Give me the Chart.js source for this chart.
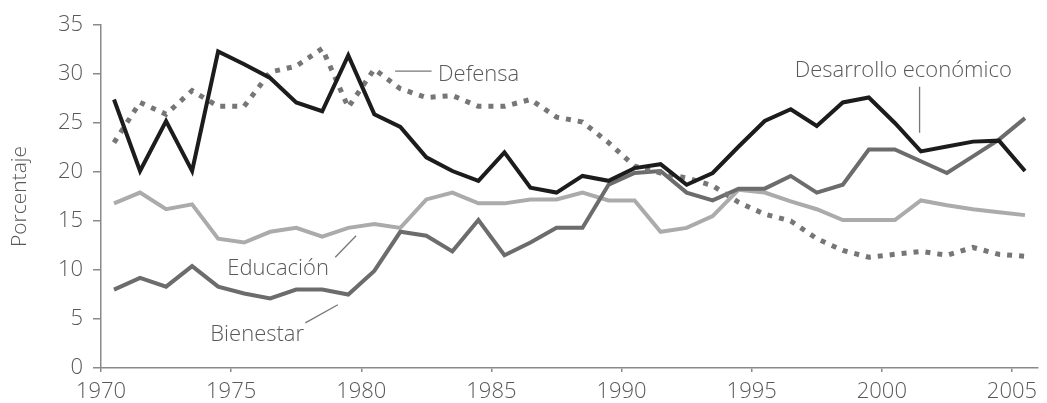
<!DOCTYPE html>
<html>
<head>
<meta charset="utf-8">
<script src="https://cdn.jsdelivr.net/npm/chart.js"></script>
<style>
  html, body { margin: 0; padding: 0; background: #fff; }
  #wrap { width: 1047px; height: 403px; }
</style>
</head>
<body>
<div id="wrap"><canvas id="myChart" width="1047" height="403"></canvas></div>
<script>
const years = [1970, 1971, 1972, 1973, 1974, 1975, 1976, 1977, 1978, 1979,
  1980, 1981, 1982, 1983, 1984, 1985, 1986, 1987, 1988, 1989,
  1990, 1991, 1992, 1993, 1994, 1995, 1996, 1997, 1998, 1999,
  2000, 2001, 2002, 2003, 2004, 2005];

const desarrollo = [27.4, 20.1, 25.2, 20.1, 32.3, 31.0, 29.6, 27.1, 26.2, 31.9,
  25.9, 24.6, 21.5, 20.1, 19.1, 22.0, 18.4, 17.9, 19.6, 19.1,
  20.4, 20.8, 18.7, 19.9, 22.6, 25.2, 26.4, 24.7, 27.1, 27.6,
  25.0, 22.1, 22.6, 23.1, 23.2, 20.1];

const defensa = [23.0, 27.1, 25.9, 28.3, 26.7, 26.7, 30.2, 30.8, 32.6, 26.6,
  30.5, 28.5, 27.6, 27.8, 26.7, 26.7, 27.4, 25.6, 25.1, 23.0,
  20.6, 19.9, 19.4, 18.6, 16.9, 15.7, 15.0, 13.2, 12.0, 11.3,
  11.6, 11.9, 11.5, 12.3, 11.6, 11.4];

const educacion = [16.8, 17.9, 16.2, 16.7, 13.2, 12.8, 13.9, 14.3, 13.4, 14.3,
  14.7, 14.3, 17.2, 17.9, 16.8, 16.8, 17.2, 17.2, 17.9, 17.1,
  17.1, 13.9, 14.3, 15.5, 18.2, 17.9, 17.0, 16.2, 15.1, 15.1,
  15.1, 17.1, 16.6, 16.2, 15.9, 15.6];

const bienestar = [8.0, 9.2, 8.3, 10.4, 8.3, 7.6, 7.1, 8.0, 8.0, 7.5,
  9.9, 13.9, 13.5, 11.9, 15.1, 11.5, 12.8, 14.3, 14.3, 18.7,
  19.9, 20.1, 17.9, 17.1, 18.3, 18.3, 19.6, 17.9, 18.7, 22.3,
  22.3, 21.1, 19.9, 21.6, 23.3, 25.5];

const yTicks = [0, 5, 10, 15, 20, 25, 30, 35];
const xTicks = [1970, 1975, 1980, 1985, 1990, 1995, 2000, 2005];

// values are annual, plotted at mid-year
const toPoints = vals => vals.map((v, i) => ({ x: years[i] + 0.5, y: v }));

const FONT = '"Open Sans", "Noto Sans", sans-serif';
const TEXT = '#595959';
const AXIS = '#8a8a8a';

// labels with their leader lines, in data units
const notes = [
  { text: 'Defensa', x: 1982.95, y: 29.3, line: [1981.3, 30.3, 1982.7, 30.3] },
  { text: 'Desarrollo económico', x: 1996.65, y: 29.7, line: [2001.45, 28.7, 2001.45, 24.0] },
  { text: 'Educación', x: 1974.85, y: 9.5, line: [1979.0, 11.3, 1979.8, 13.5] },
  { text: 'Bienestar', x: 1974.2, y: 2.75, line: [1977.85, 4.6, 1979.1, 6.45] }
];

const notesPlugin = {
  id: 'notes',
  afterDatasetsDraw(chart) {
    const { ctx, scales: { x, y } } = chart;
    ctx.save();
    ctx.font = '300 22px ' + FONT;
    ctx.fillStyle = TEXT;
    ctx.textBaseline = 'alphabetic';
    ctx.textAlign = 'left';
    ctx.strokeStyle = '#777';
    ctx.lineWidth = 1.3;
    notes.forEach(n => {
      ctx.fillText(n.text, x.getPixelForValue(n.x), y.getPixelForValue(n.y));
      const [x1, y1, x2, y2] = n.line;
      ctx.beginPath();
      ctx.moveTo(x.getPixelForValue(x1), y.getPixelForValue(y1));
      ctx.lineTo(x.getPixelForValue(x2), y.getPixelForValue(y2));
      ctx.stroke();
    });
    ctx.restore();
  }
};

const ctx = document.getElementById('myChart');

new Chart(ctx, {
  type: 'line',
  data: {
    datasets: [
      { label: 'Desarrollo económico', data: toPoints(desarrollo), borderColor: '#1c1c1c', borderWidth: 4 },
      { label: 'Defensa', data: toPoints(defensa), borderColor: '#767676', borderWidth: 5,
        borderDash: [5, 7], borderCapStyle: 'butt' },
      { label: 'Bienestar', data: toPoints(bienestar), borderColor: '#6c6c6c', borderWidth: 4 },
      { label: 'Educación', data: toPoints(educacion), borderColor: '#ababab', borderWidth: 4 }
    ]
  },
  options: {
    responsive: false,
    animation: false,
    devicePixelRatio: 1,
    elements: {
      point: { radius: 0 },
      line: { tension: 0, borderJoinStyle: 'miter', fill: false }
    },
    layout: { padding: { top: 25, right: 9, left: 0, bottom: 0 } },
    plugins: {
      legend: { display: false },
      tooltip: { enabled: false }
    },
    scales: {
      x: {
        type: 'linear',
        min: 1970,
        max: 2006,
        afterFit: s => { s.height = 35; },
        afterBuildTicks: s => { s.ticks = xTicks.map(v => ({ value: v })); },
        grid: { drawOnChartArea: false, drawTicks: true, tickLength: 4, color: AXIS, lineWidth: 1.5 },
        border: { display: true, color: AXIS, width: 1.5 },
        ticks: {
          padding: 7,
          maxRotation: 0,
          color: TEXT,
          font: { family: FONT, size: 22, weight: '300' },
          callback: v => String(v)
        }
      },
      y: {
        min: 0,
        max: 35,
        afterFit: s => { s.width = 101; },
        afterBuildTicks: s => { s.ticks = yTicks.map(v => ({ value: v })); },
        grid: { drawOnChartArea: false, drawTicks: true, tickLength: 8, color: AXIS, lineWidth: 1.5 },
        border: { display: true, color: AXIS, width: 1.5 },
        ticks: {
          padding: 10,
          color: TEXT,
          font: { family: FONT, size: 22, weight: '300' },
          callback: v => String(v)
        },
        title: {
          display: true,
          text: 'Porcentaje',
          color: TEXT,
          font: { family: FONT, size: 21, weight: '300' },
          padding: { top: 7, bottom: 0 }
        }
      }
    }
  },
  plugins: [notesPlugin]
});
</script>
</body>
</html>
